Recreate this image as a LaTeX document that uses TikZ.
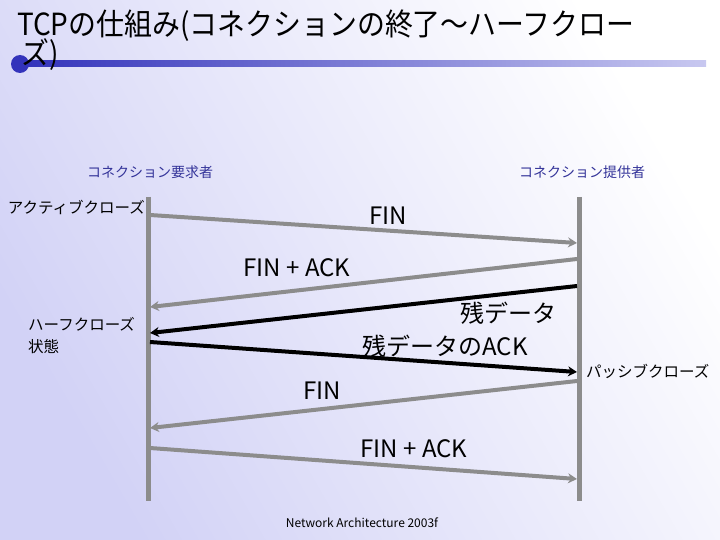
\documentclass[tikz,border=0pt]{standalone}
\usepackage{fontspec}
\setmainfont{Noto Sans CJK JP}
\usetikzlibrary{arrows.meta}
\definecolor{lav}{HTML}{D2D2F6}
\definecolor{lblue}{HTML}{333399}
\definecolor{lgray}{HTML}{8C8C8C}
\definecolor{bardark}{HTML}{3333BB}
\definecolor{barlight}{HTML}{C8C8F0}
\tikzset{
  lifeline/.style={draw=lgray, line width=5pt},
  msggray/.style={draw=lgray, line width=4pt, -{Stealth[length=9pt,width=10pt,inset=3pt]}},
  msgblack/.style={draw=black, line width=4pt, -{Stealth[length=9pt,width=10pt,inset=3pt]}},
  msglabel/.style={font=\fontsize{24}{26}\selectfont, inner sep=0pt},
  rolelabel/.style={font=\fontsize{14}{16}\selectfont, text=lblue, inner sep=0pt},
  statelabel/.style={font=\fontsize{15.5}{22}\selectfont, inner sep=0pt, align=left},
  titletext/.style={anchor=base west, inner sep=0pt, font=\fontsize{30.5}{32}\selectfont},
}
\begin{document}
\begin{tikzpicture}[x=1pt,y=-1pt]
\useasboundingbox (0,0) rectangle (720,540);
\shade[shading=axis, left color=lav, right color=white, shading angle=120] (0,0) rectangle (720,540);
% title
\node[titletext] (t1) at (17,36) {\scalebox{0.915}[1]{TCPの仕組み(コネクションの終了～ハーフクロー}};
\shade[left color=bardark, right color=barlight] (20,60.5) rectangle (706,67);
\fill[bardark] (20,64) circle (9);
\node[titletext] (t2) at (21,65) {\scalebox{0.915}[1]{ズ)}};
% role labels
\node[rolelabel] (req) at (150,172) {コネクション要求者};
\node[rolelabel] (prov) at (582,172) {コネクション提供者};
% lifelines
\coordinate (Ltop) at (148,197);
\coordinate (Lbot) at (148,501);
\coordinate (Rtop) at (579,197);
\coordinate (Rbot) at (579,501);
\draw[lifeline] (Ltop) -- (Lbot);
\draw[lifeline] (Rtop) -- (Rbot);
% endpoints
\coordinate (a1) at (150,215); \coordinate (b1) at (577,243);
\coordinate (a2) at (577,259); \coordinate (b2) at (150,307);
\coordinate (a3) at (577,286); \coordinate (b3) at (150,333);
\coordinate (a4) at (150,342); \coordinate (b4) at (577,372);
\coordinate (a5) at (577,381); \coordinate (b5) at (150,428);
\coordinate (a6) at (150,448); \coordinate (b6) at (577,479);
\draw[msggray] (a1) -- (b1);
\draw[msggray] (a2) -- (b2);
\draw[msgblack] (a3) -- (b3);
\draw[msgblack] (a4) -- (b4);
\draw[msggray] (a5) -- (b5);
\draw[msggray] (a6) -- (b6);
% message labels
\node[msglabel] (m1) at (388,216) {FIN};
\node[msglabel] (m2) at (297,268) {FIN + ACK};
\node[msglabel] (m3) at (508,313) {残データ};
\node[msglabel] (m4) at (445,346) {残データのACK};
\node[msglabel] (m5) at (322,391) {FIN};
\node[msglabel] (m6) at (414,449) {FIN + ACK};
% state labels
\node[statelabel, anchor=east] (act) at (145,207) {アクティブクローズ};
\node[statelabel, anchor=north west] (half) at (28,317) {ハーフクローズ\\状態};
\node[statelabel, anchor=west] (pas) at (586,371) {パッシブクローズ};
% footer
\node[inner sep=0pt, font=\fontsize{12}{14}\selectfont] (foot) at (362,523) {Network Architecture 2003f};
\end{tikzpicture}
\end{document}
